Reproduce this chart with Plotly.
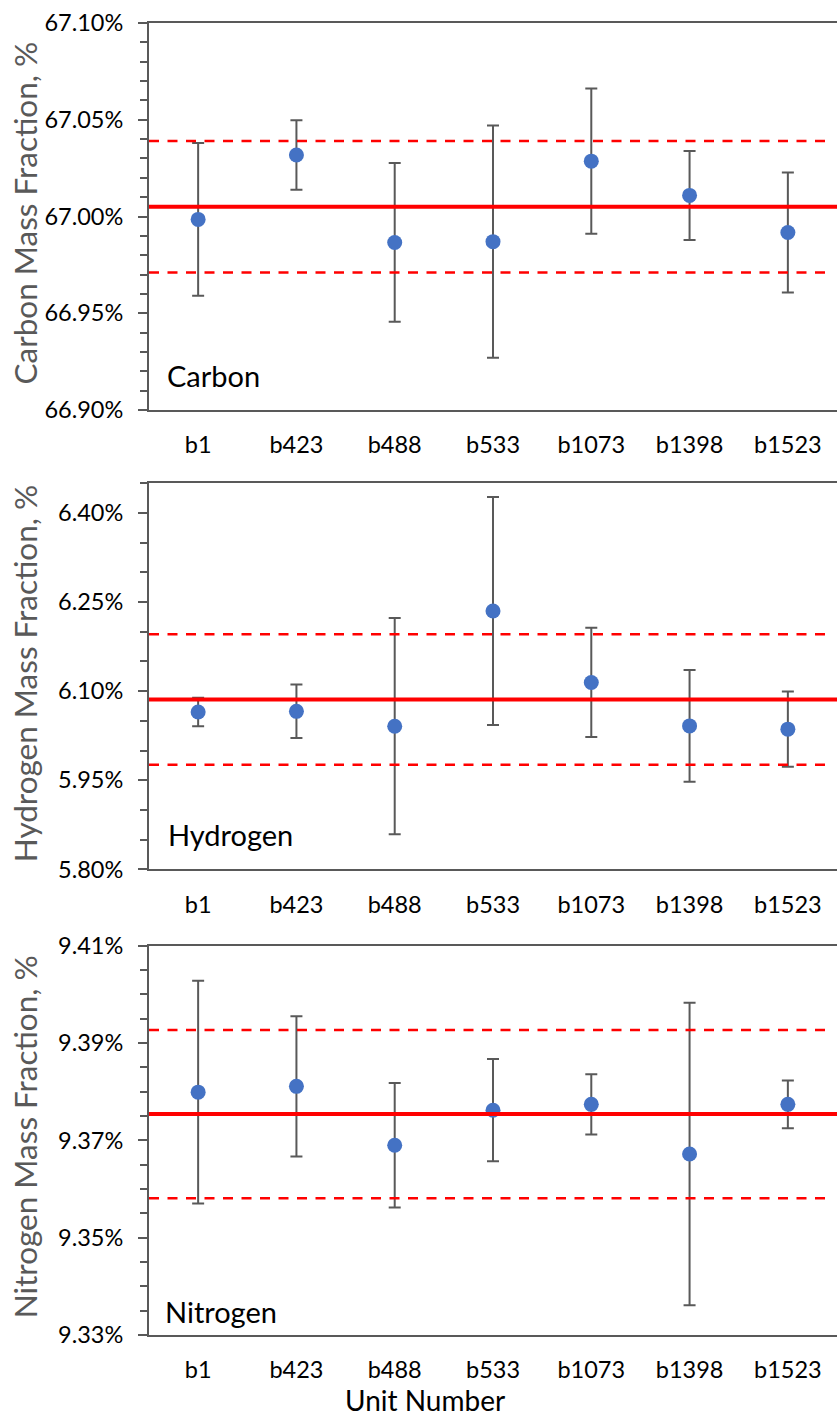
import plotly.graph_objects as go

# ---------------- data ----------------
units = ["b1", "b423", "b488", "b533", "b1073", "b1398", "b1523"]

carbon_value = [66.9985, 67.0318, 66.9866, 66.9870, 67.0286, 67.0109, 66.9917]
carbon_err = [0.0395, 0.0180, 0.0410, 0.0600, 0.0375, 0.0230, 0.0310]
carbon_ref = 67.005
carbon_band = 0.034

hydrogen_value = [6.065, 6.066, 6.041, 6.235, 6.1146, 6.0415, 6.036]
hydrogen_err = [0.024, 0.045, 0.182, 0.192, 0.092, 0.094, 0.0635]
hydrogen_ref = 6.086
hydrogen_band = 0.110

nitrogen_value = [9.3799, 9.3811, 9.3690, 9.3762, 9.3774, 9.3672, 9.3774]
nitrogen_err = [0.0229, 0.0144, 0.0128, 0.0105, 0.0062, 0.0311, 0.0049]
nitrogen_ref = 9.3754
nitrogen_band = 0.0173

panel_names = ["Carbon", "Hydrogen", "Nitrogen"]
y_titles = ["Carbon Mass Fraction, %", "Hydrogen Mass Fraction, %", "Nitrogen Mass Fraction, %"]
y_ranges = [[66.90, 67.10], [5.80, 6.45], [9.33, 9.41]]
y_dticks = [0.05, 0.15, 0.02]
y_minor = [0.01, 0.05, 0.005]
x_title = "Unit Number"

# ---------------- layout geometry ----------------
W, H = 837, 1418
L, R, T, B = 149, 0, 23, 83
PW, PH = W - L - R, H - T - B

def py(p):  # pixel y -> paper y
    return (H - B - p) / PH

def px(p):  # pixel x -> paper x
    return (p - L) / PW

panel_px = [(23, 410), (483.3, 869.3), (945.7, 1335)]
domains = [[py(b), py(t)] for t, b in panel_px]

FONT = "Lato"
AX = "#595959"
RED = "#FF0000"
BLUE = "#4472C4"

series = [
    (carbon_value, carbon_err, carbon_ref, carbon_band),
    (hydrogen_value, hydrogen_err, hydrogen_ref, hydrogen_band),
    (nitrogen_value, nitrogen_err, nitrogen_ref, nitrogen_band),
]

fig = go.Figure()
layout = {}
for i, (vals, errs, ref, band) in enumerate(series):
    n = "" if i == 0 else str(i + 1)
    fig.add_trace(go.Scatter(
        x=units, y=vals, mode="markers",
        marker=dict(color=BLUE, size=15),
        error_y=dict(type="data", array=errs, visible=True, color=AX, thickness=2, width=6),
        xaxis="x" + n, yaxis="y" + n, showlegend=False,
    ))
    # reference line and band
    fig.add_shape(type="line", xref="x" + n + " domain", yref="y" + n,
                  x0=0, x1=1, y0=ref, y1=ref, line=dict(color=RED, width=4), layer="above")
    for s in (1, -1):
        yv = ref + s * band
        fig.add_shape(type="line", xref="x" + n + " domain", yref="y" + n,
                      x0=0, x1=0.99, y0=yv, y1=yv,
                      line=dict(color=RED, width=2.5, dash="10px,8.5px"), layer="above")

    layout["xaxis" + n] = dict(
        domain=[0, 1], anchor="y" + n, type="category", range=[-0.5, 6.5],
        showline=True, mirror=True, linecolor=AX, linewidth=2,
        ticks="", showgrid=False, zeroline=False,
        tickfont=dict(family=FONT, size=23.5, color="black"),
        ticklabelstandoff=13,
    )
    layout["yaxis" + n] = dict(
        domain=domains[i], anchor="x" + n, range=y_ranges[i],
        tick0=y_ranges[i][0], dtick=y_dticks[i], tickformat=".2f", ticksuffix="%",
        showline=True, linecolor=AX, linewidth=2,
        ticks="outside", ticklen=9, tickwidth=2, tickcolor=AX,
        minor=dict(ticks="outside", ticklen=7, tickwidth=2, tickcolor=AX,
                   tick0=y_ranges[i][0], dtick=y_minor[i]),
        showgrid=False, zeroline=False,
        tickfont=dict(family=FONT, size=23.5, color="black"),
        ticklabelstandoff=10,
    )

annotations = []
label_pos = [(165, 375), (166, 834), (163, 1311)]
for i in range(3):
    t, b = panel_px[i]
    annotations.append(dict(
        text=y_titles[i], textangle=-90, xref="paper", yref="paper",
        x=px(25), y=py((t + b) / 2 - 3), xanchor="center", yanchor="middle",
        showarrow=False, font=dict(family=FONT, size=31.5, color=AX)))
    lx, ly = label_pos[i]
    annotations.append(dict(
        text=panel_names[i], xref="paper", yref="paper",
        x=px(lx), y=py(ly), xanchor="left", yanchor="middle",
        showarrow=False, font=dict(family=FONT, size=29, color="black")))
annotations.append(dict(
    text=x_title, xref="paper", yref="paper", x=px(425), y=py(1400),
    xanchor="center", yanchor="middle", showarrow=False, borderpad=0,
    font=dict(family=FONT, size=28, color="black")))

fig.update_layout(
    width=W, height=H,
    margin=dict(l=L, r=R, t=T, b=B, pad=0),
    paper_bgcolor="white", plot_bgcolor="white",
    annotations=annotations,
    **layout,
)

fig.write_html("out.html")
